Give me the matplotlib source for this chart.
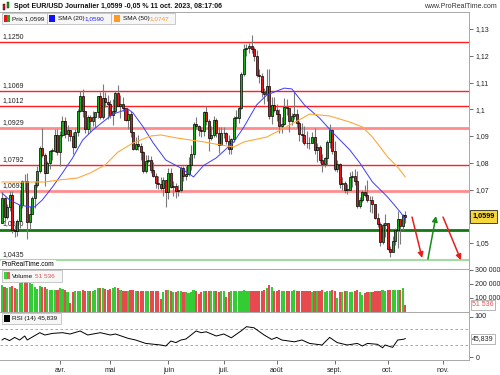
import numpy as np
import pandas as pd
import matplotlib
matplotlib.use("Agg")
import matplotlib.pyplot as plt
import matplotlib.transforms as mtransforms
from matplotlib.patches import Rectangle

plt.rcParams["font.family"] = ["Liberation Sans", "DejaVu Sans"]

# EUR/USD daily candles, 1 mars -> 11 oct. 2023 (business days)
open_first = 1.0576
close = [
    # mars
    1.0669, 1.0597, 1.0634, 1.0681, 1.0548, 1.0544, 1.0581, 1.0641, 1.0732, 1.0730, 1.0577, 1.0610,
    1.0669, 1.0718, 1.0771, 1.0856, 1.0830, 1.0760, 1.0800, 1.0844, 1.0845, 1.0905, 1.0839,
    # avril
    1.0903, 1.0955, 1.0906, 1.0921, 1.0900, 1.0860, 1.0914, 1.0994, 1.1048, 1.0992, 1.0926, 1.0972,
    1.0956, 1.0970, 1.0988, 1.1050, 1.0970, 1.1043, 1.1027, 1.1020,
    # mai
    1.0980, 1.0995, 1.1061, 1.1013, 1.1019, 1.1005, 1.0961, 1.0983, 1.0915, 1.0850, 1.0871, 1.0862,
    1.0840, 1.0770, 1.0805, 1.0812, 1.0772, 1.0750, 1.0725, 1.0722, 1.0705, 1.0735, 1.0690,
    # juin
    1.0762, 1.0708, 1.0712, 1.0694, 1.0700, 1.0780, 1.0750, 1.0759, 1.0790, 1.0833, 1.0944, 1.0939,
    1.0922, 1.0917, 1.0990, 1.0955, 1.0894, 1.0905, 1.0960, 1.0911, 1.0866, 1.0910,
    # juillet
    1.0910, 1.0880, 1.0853, 1.0888, 1.0968, 1.0968, 1.1006, 1.1130, 1.1225, 1.1228, 1.1237, 1.1227,
    1.1200, 1.1128, 1.1125, 1.1066, 1.1057, 1.1086, 1.0975, 1.1017, 1.0997,
    # aout
    1.0984, 1.0938, 1.0944, 1.1008, 1.1003, 1.0957, 1.0974, 1.0981, 1.0947, 1.0906, 1.0904, 1.0874,
    1.0873, 1.0872, 1.0895, 1.0848, 1.0860, 1.0810, 1.0794, 1.0817, 1.0879, 1.0923, 1.0845,
    # septembre
    1.0775, 1.0794, 1.0720, 1.0725, 1.0698, 1.0700, 1.0747, 1.0752, 1.0732, 1.0640, 1.0660, 1.0690,
    1.0678, 1.0660, 1.0660, 1.0645, 1.0593, 1.0570, 1.0503, 1.0567, 1.0574,
    # octobre
    1.0478, 1.0468, 1.0508, 1.0550, 1.0588, 1.0562, 1.0605, 1.0599,
]
high = [
    1.0691, 1.0671, 1.0645, 1.0694, 1.0695, 1.0567, 1.0590, 1.0700, 1.0737, 1.0759, 1.0760, 1.0637,
    1.0677, 1.0730, 1.0788, 1.0863, 1.0930, 1.0835, 1.0808, 1.0849, 1.0856, 1.0926, 1.0925,
    1.0918, 1.0973, 1.0972, 1.0941, 1.0924, 1.0915, 1.0925, 1.1000, 1.1067, 1.1075, 1.0990, 1.0980,
    1.0980, 1.0993, 1.0991, 1.1050, 1.1065, 1.1095, 1.1063, 1.1053,
    1.1036, 1.1040, 1.1070, 1.1092, 1.1054, 1.1044, 1.1003, 1.1000, 1.0994, 1.0915, 1.0895, 1.0905,
    1.0875, 1.0845, 1.0829, 1.0830, 1.0825, 1.0803, 1.0760, 1.0750, 1.0746, 1.0745, 1.0737,
    1.0780, 1.0779, 1.0732, 1.0725, 1.0718, 1.0787, 1.0789, 1.0788, 1.0823, 1.0865, 1.0951, 1.0970,
    1.0941, 1.0935, 1.0995, 1.1012, 1.0964, 1.0937, 1.0976, 1.0966, 1.0935, 1.0935,
    1.0935, 1.0916, 1.0902, 1.0891, 1.0975, 1.0999, 1.1012, 1.1138, 1.1245, 1.1245, 1.1246, 1.1276,
    1.1234, 1.1220, 1.1150, 1.1135, 1.1080, 1.1150, 1.1149, 1.1044, 1.1045,
    1.1020, 1.1000, 1.0970, 1.1041, 1.1040, 1.0998, 1.0985, 1.1064, 1.1000, 1.0955, 1.0950, 1.0937,
    1.0917, 1.0896, 1.0914, 1.0930, 1.0875, 1.0866, 1.0834, 1.0820, 1.0885, 1.0945, 1.0928,
    1.0882, 1.0810, 1.0800, 1.0746, 1.0730, 1.0722, 1.0767, 1.0768, 1.0777, 1.0768, 1.0673, 1.0699,
    1.0718, 1.0736, 1.0676, 1.0674, 1.0644, 1.0611, 1.0578, 1.0575, 1.0609,
    1.0574, 1.0490, 1.0525, 1.0557, 1.0618, 1.0575, 1.0608, 1.0620,
]
low = [
    1.0574, 1.0578, 1.0588, 1.0620, 1.0536, 1.0524, 1.0528, 1.0555, 1.0630, 1.0690, 1.0516, 1.0551,
    1.0610, 1.0631, 1.0711, 1.0760, 1.0820, 1.0713, 1.0760, 1.0776, 1.0810, 1.0840, 1.0830,
    1.0788, 1.0897, 1.0893, 1.0880, 1.0880, 1.0832, 1.0855, 1.0900, 1.0988, 1.0972, 1.0910, 1.0908,
    1.0915, 1.0937, 1.0935, 1.0968, 1.0962, 1.0965, 1.1010, 1.0962,
    1.0966, 1.0942, 1.0987, 1.1012, 1.0968, 1.0995, 1.0956, 1.0928, 1.0895, 1.0846, 1.0849, 1.0846,
    1.0810, 1.0760, 1.0760, 1.0800, 1.0760, 1.0747, 1.0706, 1.0702, 1.0698, 1.0675, 1.0635,
    1.0666, 1.0705, 1.0675, 1.0667, 1.0675, 1.0691, 1.0733, 1.0734, 1.0751, 1.0774, 1.0818, 1.0925,
    1.0900, 1.0895, 1.0900, 1.0942, 1.0845, 1.0885, 1.0898, 1.0898, 1.0835, 1.0867,
    1.0893, 1.0870, 1.0834, 1.0833, 1.0878, 1.0935, 1.0950, 1.1000, 1.1126, 1.1200, 1.1212, 1.1209,
    1.1180, 1.1122, 1.1100, 1.1047, 1.1020, 1.1030, 1.0962, 1.0945, 1.0990,
    1.0955, 1.0913, 1.0912, 1.0941, 1.0980, 1.0914, 1.0940, 1.0965, 1.0929, 1.0880, 1.0878, 1.0865,
    1.0855, 1.0852, 1.0876, 1.0833, 1.0802, 1.0798, 1.0766, 1.0785, 1.0790, 1.0855, 1.0834,
    1.0771, 1.0765, 1.0705, 1.0700, 1.0686, 1.0685, 1.0702, 1.0711, 1.0715, 1.0632, 1.0631, 1.0652,
    1.0672, 1.0654, 1.0616, 1.0613, 1.0588, 1.0560, 1.0488, 1.0496, 1.0521,
    1.0472, 1.0448, 1.0465, 1.0493, 1.0483, 1.0495, 1.0550, 1.0575,
]
# volume in thousands
volume_k = [
    193, 176, 169, 181, 186, 169, 162, 210, 233, 221, 240, 205, 200, 180, 165, 185, 178, 176, 165, 160,
    160, 158, 158,
    170, 162, 160, 140, 66, 140, 148, 150, 152, 158, 152, 150, 150, 152, 160, 172, 168, 170, 165, 158,
    165, 172, 178, 170, 160, 150, 152, 150, 155, 160, 150, 152, 150, 150, 152, 150, 150, 148, 150, 148,
    93, 145, 155,
    155, 150, 145, 145, 148, 150, 140, 142, 138, 140, 155, 150, 130, 140, 150, 148, 152, 150, 148, 150,
    145, 148,
    150, 110, 140, 148, 150, 150, 148, 150, 155, 152, 150, 150, 152, 150, 148, 150, 155, 170, 190, 180,
    150,
    152, 155, 150, 150, 148, 150, 152, 155, 150, 150, 148, 152, 150, 150, 145, 148, 150, 152, 155, 140,
    148, 150, 155,
    150, 100, 140, 145, 150, 148, 145, 140, 150, 155, 145, 122, 135, 140, 140, 145, 148, 150, 150, 155,
    150,
    155, 158, 160, 158, 158, 160, 170, 51.536,
]

# moving averages and RSI (candle index, value)
sma20_idx = [0, 3, 7, 11, 13, 16, 20, 24, 28, 32, 36, 39, 44, 50, 52, 56, 60, 65, 71, 76, 80, 85,
             92, 96, 101, 105, 112, 115, 120, 126, 131, 138, 142, 147, 153, 158, 160]
sma20_val = [1.0687, 1.0661, 1.0642, 1.0635, 1.0635, 1.0661, 1.0709, 1.0762, 1.0818, 1.0885, 1.0922,
             1.0945, 1.0982, 1.1001, 1.0986, 1.0934, 1.0874, 1.0810, 1.0780, 1.0747, 1.0790, 1.0818,
             1.0878, 1.0934, 1.1016, 1.1053, 1.1079, 1.1076, 1.1016, 1.0967, 1.0915, 1.0848, 1.0799,
             1.0728, 1.0672, 1.0616, 1.0590]
sma50_idx = [0, 17, 23, 30, 35, 41, 46, 52, 59, 63, 69, 80, 87, 92, 96, 105, 112, 120, 122, 130,
             138, 143, 147, 153, 157, 160]
sma50_val = [1.0728, 1.0728, 1.0736, 1.0743, 1.0762, 1.0792, 1.0840, 1.0874, 1.0900, 1.0904, 1.0893,
             1.0878, 1.0866, 1.0859, 1.0878, 1.0896, 1.0930, 1.0971, 1.0982, 1.0975, 1.0952, 1.0934,
             1.0896, 1.0822, 1.0784, 1.0747]
rsi_idx = [0, 1, 3, 5, 7, 9, 10, 15, 17, 20, 24, 27, 31, 34, 39, 43, 45, 50, 53, 57, 63, 65, 67, 69,
           71, 73, 77, 79, 81, 85, 88, 91, 95, 97, 100, 104, 107, 109, 111, 116, 119, 122, 127, 130,
           133, 137, 141, 143, 145, 149, 151, 152, 155, 157, 159, 160]
rsi_val = [42.5, 46.7, 41, 49, 42.5, 52.5, 42.5, 60.8, 55, 59, 60.8, 57.5, 65, 55, 60.8, 55, 57.5,
           46.7, 42.5, 34, 30, 27.5, 40, 36, 42.5, 45, 65, 60.8, 63, 52.5, 57.5, 48, 65.8, 75.8, 73,
           55, 44, 49, 42.5, 38, 42.5, 34, 30, 49, 36, 30, 34, 27.5, 34, 31.7, 23, 30, 24, 42.5, 44,
           45.8]

levels = [1.1250, 1.1069, 1.1012, 1.0929, 1.0792, 1.0693, 1.0550, 1.0435]
level_labels = ["1,1250", "1,1069", "1,1012", "1,0929", "1,0792", "1,0693", "1,0550", "1,0435"]
level_colors = ["#ff2020", "#ff2020", "#ff2020", "#ff8c8c", "#ff2020", "#ff8c8c", "#137813", "#a2dca2"]
level_widths = [1.0, 1.0, 1.0, 2.0, 1.0, 2.0, 2.0, 1.5]

price_ticks = [1.05, 1.06, 1.07, 1.08, 1.09, 1.10, 1.11, 1.12, 1.13]
# 1,06 sits under the yellow last-price tag
price_tick_labels = ["1,05", "", "1,07", "1,08", "1,09", "1,1", "1,11", "1,12", "1,13"]
rsi_ticks = [0, 100]
rsi_tick_labels = ["0", "100"]
month_labels = ["avr.", "mai", "juin", "juil.", "août", "sept.", "oct.", "nov."]

# projected scenario arrows (candle index, price)
arrow_start = [(162.7, 1.0597), (169.0, 1.0440), (175.0, 1.0597)]
arrow_end = [(166.7, 1.0444), (172.2, 1.0601), (182.1, 1.0436)]
arrow_colors = ["#e81e1e", "#1a8a1a", "#e81e1e"]

close = np.array(close)
high = np.array(high)
low = np.array(low)
opens = np.r_[open_first, close[:-1]]
idx = np.arange(len(close))
up = close >= opens

days = pd.bdate_range("2023-03-01", "2023-11-30")
month_pos = [np.flatnonzero(days.month == m)[0] for m in range(4, 12)]

fig = plt.figure(figsize=(5, 3.75), dpi=100)
ax = fig.add_axes([0, 1 - 269 / 375, 469 / 500, 257 / 375])
axv = fig.add_axes([0, 1 - 312 / 375, 469 / 500, 43 / 375], sharex=ax)
axr = fig.add_axes([0, 1 - 360 / 375, 469 / 500, 48 / 375], sharex=ax)

grey = "#a8a8a8"
for a in (ax, axv, axr):
    for s in a.spines.values():
        s.set_color(grey)
        s.set_linewidth(0.7)
    a.spines["left"].set_visible(False)
    a.yaxis.tick_right()
    a.tick_params(axis="y", length=3, width=0.6, color="#555555", labelsize=5, pad=1.5,
                  labelcolor="#222222")
    a.tick_params(axis="x", length=0)
ax.set_xlim(-0.8, 185.3)

# main price panel
trans = mtransforms.blended_transform_factory(ax.transAxes, ax.transData)
for lv, lab, col, lw in zip(levels, level_labels, level_colors, level_widths):
    ax.axhline(lv, color=col, lw=lw, zorder=2)
    ax.text(0.006, lv + 0.0008, lab, transform=trans, fontsize=5, color="#222222",
            va="bottom", ha="left", zorder=1)

ax.vlines(idx, low, high, color="#7a7a7a", lw=0.8, zorder=3)
body = np.maximum(np.abs(close - opens), 0.0002)
ax.bar(idx, body, bottom=np.minimum(opens, close), width=0.8,
       color=np.where(up, "#18b018", "#e8141c"), edgecolor="black", linewidth=0.5, zorder=4)
ax.plot(sma20_idx, sma20_val, color="#3c3cff", lw=0.7, zorder=5)
ax.plot(sma50_idx, sma50_val, color="#ffa83c", lw=0.8, zorder=5)

for (x0, y0), (x1, y1), col in zip(arrow_start, arrow_end, arrow_colors):
    ax.annotate("", xy=(x1, y1), xytext=(x0, y0),
                arrowprops=dict(arrowstyle="-|>", color=col, lw=1.1, mutation_scale=8,
                                shrinkA=0, shrinkB=0), zorder=6)

ax.set_ylim(1.13 - 240 / 2675, 1.13 + 17 / 2675)
ax.set_yticks(price_ticks)
ax.set_yticklabels(price_tick_labels)
ax.tick_params(axis="x", labelbottom=False)
ax.text(1.007, close[-1], "1,0599", transform=trans, fontsize=5.2, fontweight="bold",
        va="center", ha="left", zorder=10, clip_on=False,
        bbox=dict(boxstyle="square,pad=0.35", fc="#f5d63c", ec="black", lw=0.5))
ax.text(0.004, 0.003, "ProRealTime.com", transform=ax.transAxes, fontsize=4.8,
        va="bottom", ha="left", zorder=10,
        bbox=dict(boxstyle="square,pad=0.2", fc="white", ec="none"))

# volume panel
axv.bar(idx, np.array(volume_k) * 1000, width=0.85,
        color=np.where(up, "#34cc34", "#e64a4e"), zorder=3)
axv.set_ylim(0, 307000)
axv.set_yticks([100000, 200000, 300000])
axv.set_yticklabels(["100 000", "200 000", "300 000"])
axv.tick_params(axis="x", labelbottom=False)
transv = mtransforms.blended_transform_factory(axv.transAxes, axv.transData)
axv.text(1.007, volume_k[-1] * 1000, "51 536", transform=transv, fontsize=5, color="#e05050",
         va="center", ha="left", zorder=10, clip_on=False,
         bbox=dict(boxstyle="square,pad=0.2", fc="white", ec="#999999", lw=0.5))

# RSI panel
axr.axhline(70, color="#9a9a9a", lw=0.6, ls=(0, (3, 3)))
axr.axhline(30, color="#9a9a9a", lw=0.6, ls=(0, (3, 3)))
axr.plot(rsi_idx, rsi_val, color="black", lw=0.7, zorder=3)
axr.set_ylim(-7.5, 112.5)
axr.set_yticks(rsi_ticks)
axr.set_yticklabels(["0", ""])
axr.text(1.007, rsi_val[-1], "45,839", transform=mtransforms.blended_transform_factory(
         axr.transAxes, axr.transData), fontsize=5, color="#222222",
         va="center", ha="left", zorder=10, clip_on=False,
         bbox=dict(boxstyle="square,pad=0.2", fc="white", ec="#999999", lw=0.5))
axr.set_xticks(month_pos)
axr.set_xticklabels(month_labels)
axr.tick_params(axis="x", length=3, width=0.6, color="#555555", labelsize=5, pad=2,
                labelcolor="#222222")


def px(x, y):
    return x / 500, 1 - y / 375


# RSI top label, drawn at figure level so nothing paints over it
fig.text(*px(474, 317), rsi_tick_labels[1], fontsize=5.2, va="center", ha="left",
         color="#222222", zorder=50)

# header
fig.add_artist(Rectangle(px(3, 10), 2 / 500, 6 / 375, fc="#e8141c", ec="black", lw=0.3,
                         transform=fig.transFigure))
fig.add_artist(Rectangle(px(7, 8), 2 / 500, 6 / 375, fc="#18b018", ec="black", lw=0.3,
                         transform=fig.transFigure))
fig.text(*px(14, 6.5), "Spot EUR/USD Journalier 1,0599 -0,05 % 11 oct. 2023, 08:17:06",
         fontsize=5, fontweight="bold", va="center", ha="left", color="#111111")
fig.text(*px(497, 6.5), "www.ProRealTime.com", fontsize=5, va="center", ha="right",
         color="#333333")

# legend boxes
box_style = dict(fc="#f6f6f6", ec="#b4b4b4", lw=0.5)
for x0, x1 in [(2, 47), (47, 111), (111, 175)]:
    fig.add_artist(Rectangle(px(x0, 24), (x1 - x0) / 500, 11 / 375, transform=fig.transFigure,
                             **box_style))
fig.add_artist(Rectangle(px(4, 22), 3 / 500, 7 / 375, fc="#e8141c", lw=0, transform=fig.transFigure))
fig.add_artist(Rectangle(px(7, 22), 3 / 500, 7 / 375, fc="#18b018", lw=0, transform=fig.transFigure))
fig.add_artist(Rectangle(px(49, 22), 6 / 500, 7 / 375, fc="#1010ff", lw=0, transform=fig.transFigure))
fig.add_artist(Rectangle(px(114, 22), 6 / 500, 7 / 375, fc="#ff9a20", lw=0, transform=fig.transFigure))
fig.text(*px(12, 18.5), "Prix 1,0599", fontsize=4.6, va="center", ha="left", color="#111111")
fig.text(*px(58, 18.5), "SMA (20)", fontsize=4.6, va="center", ha="left", color="#111111")
fig.text(*px(84, 18.5), "1,0590", fontsize=4.6, va="center", ha="left", color="#2020ff")
fig.text(*px(123, 18.5), "SMA (50)", fontsize=4.6, va="center", ha="left", color="#111111")
fig.text(*px(149, 18.5), "1,0747", fontsize=4.6, va="center", ha="left", color="#ff9a20")

# volume / RSI headers
fig.add_artist(Rectangle(px(2, 282), 60 / 500, 12 / 375, transform=fig.transFigure, **box_style))
fig.add_artist(Rectangle(px(4, 279), 3 / 500, 7 / 375, fc="#44d044", lw=0, transform=fig.transFigure))
fig.add_artist(Rectangle(px(7, 279), 3 / 500, 7 / 375, fc="#ee5a5a", lw=0, transform=fig.transFigure))
fig.text(*px(12, 276), "Volume", fontsize=4.6, va="center", ha="left", color="#111111")
fig.text(*px(35, 276), "51 536", fontsize=4.6, va="center", ha="left", color="#e05050")
fig.add_artist(Rectangle(px(2, 324), 59 / 500, 11 / 375, transform=fig.transFigure, **box_style))
fig.add_artist(Rectangle(px(4, 322), 6 / 500, 7 / 375, fc="black", lw=0, transform=fig.transFigure))
fig.text(*px(12, 318.5), "RSI (14) 45,839", fontsize=4.6, va="center", ha="left", color="#111111")

fig.savefig("out.png", dpi=100)
